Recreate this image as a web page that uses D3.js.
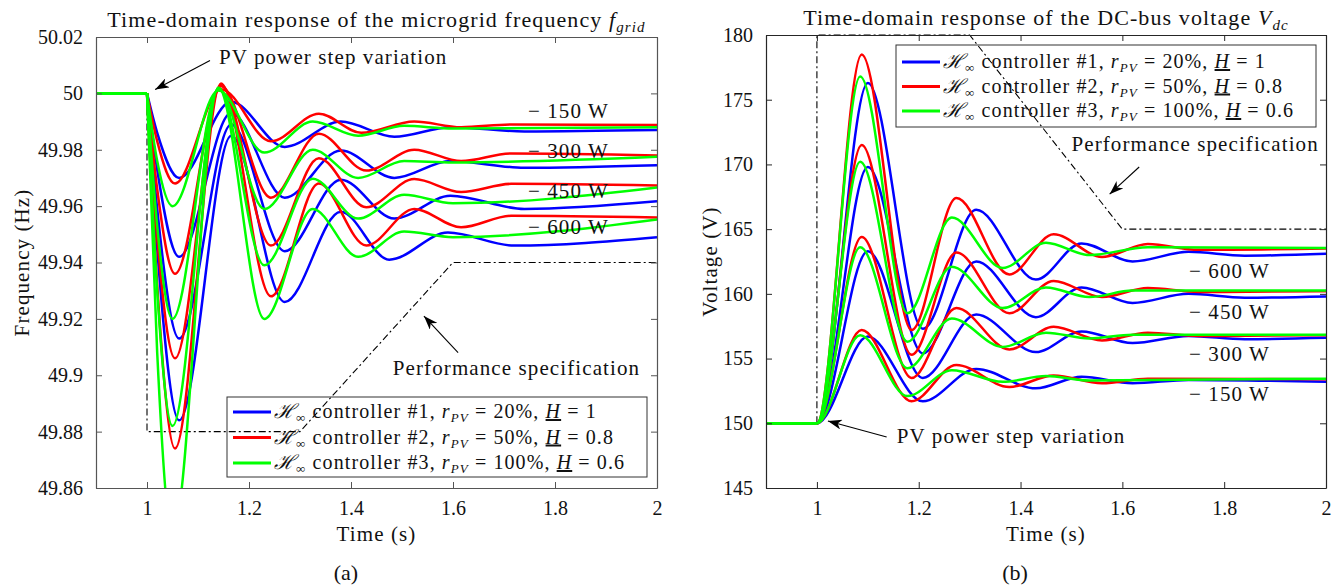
<!DOCTYPE html>
<html>
<head>
<meta charset="utf-8">
<script src="https://cdn.jsdelivr.net/npm/d3@7"></script>
<style>
  body { margin: 0; background: #fff; }
  svg text { font-family: "Liberation Serif", "Times New Roman", serif; fill: #111; }
  svg text.wide { letter-spacing: 1.1px; }
</style>
</head>
<body>
<svg id="chart" width="1333" height="585"></svg>
<script>
// Ticks y etiquetas
const timeTicks = [1, 1.2, 1.4, 1.6, 1.8, 2];
const freqTicks = [49.86, 49.88, 49.9, 49.92, 49.94, 49.96, 49.98, 50, 50.02];
const voltTicks = [145, 150, 155, 160, 165, 170, 175, 180];
const loadLabels = ['150 W', '300 W', '450 W', '600 W'];
const controllerNames = ['#1', '#2', '#3'];
const rpvValues = ['20%', '50%', '100%'];
const hValues = ['1', '0.8', '0.6'];

// Frecuencia [t, Hz], una serie por carga (150, 300, 450, 600 W)
const freqCtrl1 = [
  [[0.9, 50], [1, 50], [1.02, 49.986], [1.063, 49.970], [1.165, 49.997], [1.27, 49.981], [1.38, 49.990], [1.485, 49.9846], [1.595, 49.988], [1.74, 49.9865], [2, 49.987]],
  [[0.9, 50], [1, 50], [1.02, 49.973], [1.063, 49.942], [1.165, 49.993], [1.27, 49.963], [1.38, 49.9797], [1.485, 49.970], [1.595, 49.976], [1.74, 49.9736], [2, 49.9745]],
  [[0.9, 50], [1, 50], [1.02, 49.959], [1.063, 49.913], [1.165, 49.989], [1.27, 49.944], [1.38, 49.9694], [1.485, 49.9556], [1.595, 49.9637], [1.74, 49.959], [2, 49.9617]],
  [[0.9, 50], [1, 50], [1.02, 49.945], [1.063, 49.884], [1.165, 49.985], [1.27, 49.926], [1.38, 49.958], [1.475, 49.941], [1.59, 49.9506], [1.72, 49.946], [2, 49.949]]
];
const freqCtrl2 = [
  [[0.9, 50], [1, 50], [1.02, 49.983], [1.055, 49.968], [1.145, 50.0015], [1.243, 49.983], [1.337, 49.9928], [1.42, 49.986], [1.524, 49.990], [1.616, 49.988], [1.714, 49.989], [2, 49.9888]],
  [[0.9, 50], [1, 50], [1.02, 49.966], [1.055, 49.936], [1.145, 50.0025], [1.243, 49.963], [1.337, 49.9857], [1.43, 49.9726], [1.524, 49.980], [1.616, 49.976], [1.714, 49.9787], [2, 49.978]],
  [[0.9, 50], [1, 50], [1.02, 49.949], [1.055, 49.906], [1.145, 50.003], [1.243, 49.946], [1.337, 49.977], [1.43, 49.9596], [1.524, 49.9696], [1.616, 49.965], [1.714, 49.9679], [2, 49.9673]],
  [[0.9, 50], [1, 50], [1.02, 49.932], [1.055, 49.874], [1.145, 50.0035], [1.243, 49.928], [1.337, 49.968], [1.43, 49.946], [1.524, 49.959], [1.616, 49.9525], [1.714, 49.9566], [2, 49.956]]
];
const freqCtrl3 = [
  [[0.9, 50], [1, 50], [1.02, 49.976], [1.05, 49.960], [1.14, 50.001], [1.23, 49.979], [1.325, 49.990], [1.414, 49.985], [1.504, 49.9885], [1.6, 49.9875], [2, 49.988]],
  [[0.9, 50], [1, 50], [1.02, 49.953], [1.05, 49.920], [1.14, 50.0015], [1.23, 49.959], [1.325, 49.980], [1.414, 49.970], [1.504, 49.976], [1.6, 49.9755], [2, 49.9775]],
  [[0.9, 50], [1, 50], [1.02, 49.930], [1.05, 49.882], [1.14, 50.002], [1.23, 49.939], [1.325, 49.9697], [1.414, 49.9556], [1.504, 49.964], [1.6, 49.961], [2, 49.9666]],
  [[0.9, 50], [1, 50], [1.02, 49.908], [1.05, 49.843], [1.14, 50.002], [1.23, 49.920], [1.325, 49.959], [1.414, 49.942], [1.504, 49.951], [1.6, 49.949], [2, 49.9553]]
];

// Tensión del bus DC [t, V]
const voltCtrl1 = [
  [[0.9, 150], [1, 150], [1.10, 156.7], [1.208, 151.7], [1.313, 154.2], [1.43, 152.7], [1.52, 153.6], [1.62, 153.1], [1.73, 153.35], [2, 153.2]],
  [[0.9, 150], [1, 150], [1.10, 163.3], [1.208, 153.5], [1.313, 158.4], [1.43, 155.5], [1.52, 157.1], [1.62, 156.2], [1.73, 156.75], [1.84, 156.5], [2, 156.6]],
  [[0.9, 150], [1, 150], [1.10, 169.8], [1.208, 155.4], [1.313, 162.5], [1.43, 158.2], [1.52, 160.5], [1.62, 159.3], [1.73, 160.0], [1.84, 159.7], [2, 159.8]],
  [[0.9, 150], [1, 150], [1.10, 176.3], [1.208, 157.3], [1.313, 166.5], [1.43, 161.1], [1.52, 163.9], [1.62, 162.5], [1.73, 163.25], [1.84, 162.95], [2, 163.1]]
];
const voltCtrl2 = [
  [[0.9, 150], [1, 150], [1.088, 157.2], [1.186, 151.7], [1.274, 154.5], [1.378, 152.8], [1.465, 153.7], [1.56, 153.1], [1.65, 153.45], [2, 153.4]],
  [[0.9, 150], [1, 150], [1.088, 164.4], [1.186, 153.5], [1.274, 158.9], [1.378, 155.7], [1.465, 157.45], [1.56, 156.4], [1.65, 157.0], [1.75, 156.75], [2, 156.8]],
  [[0.9, 150], [1, 150], [1.088, 171.5], [1.186, 155.3], [1.274, 163.2], [1.378, 158.5], [1.465, 161.0], [1.56, 159.75], [1.65, 160.45], [1.75, 160.15], [2, 160.2]],
  [[0.9, 150], [1, 150], [1.088, 178.5], [1.186, 157.2], [1.274, 167.4], [1.378, 161.5], [1.465, 164.6], [1.56, 162.85], [1.65, 163.85], [1.75, 163.4], [2, 163.5]]
];
const voltCtrl3 = [
  [[0.9, 150], [1, 150], [1.085, 156.8], [1.178, 152.1], [1.265, 154.1], [1.365, 153.2], [1.45, 153.65], [1.535, 153.3], [2, 153.45]],
  [[0.9, 150], [1, 150], [1.085, 163.6], [1.178, 154.25], [1.265, 158.1], [1.365, 155.9], [1.45, 157.0], [1.535, 156.55], [1.62, 156.85], [2, 156.85]],
  [[0.9, 150], [1, 150], [1.085, 170.2], [1.178, 156.3], [1.265, 162.1], [1.365, 158.9], [1.45, 160.5], [1.535, 159.75], [1.62, 160.25], [2, 160.25]],
  [[0.9, 150], [1, 150], [1.085, 176.8], [1.178, 158.5], [1.265, 165.9], [1.365, 162.0], [1.45, 163.95], [1.535, 163.0], [1.65, 163.6], [2, 163.55]]
];

// Especificación de desempeño
const freqSpec = [[1, 50], [1, 49.88], [1.3, 49.88], [1.6, 49.94], [2, 49.94]];
const voltSpec = [[1, 150], [1, 180], [1.3, 180], [1.6, 165], [2, 165]];

const colors = ['#0000ff', '#ff0000', '#00ff00'];
const svg = d3.select('#chart');

// Punta de flecha
svg.append('defs').append('marker')
  .attr('id', 'arrow')
  .attr('viewBox', '0 0 14 10')
  .attr('refX', 14).attr('refY', 5)
  .attr('markerWidth', 14).attr('markerHeight', 10)
  .attr('markerUnits', 'userSpaceOnUse')
  .attr('orient', 'auto')
  .append('path')
  .attr('d', 'M0,0 L14,5 L0,10 L4,5 Z')
  .attr('fill', '#000');

function drawPanel(p) {
  const x = d3.scaleLinear().domain([0.9, 2]).range([p.left, p.right]);
  const y = d3.scaleLinear().domain(p.yDomain).range([p.bottom, p.top]);
  const g = svg.append('g');

  g.append('clipPath').attr('id', 'clip-' + p.id).append('rect')
    .attr('x', p.left).attr('y', p.top)
    .attr('width', p.right - p.left).attr('height', p.bottom - p.top);

  const straight = d3.line().x(d => x(d[0])).y(d => y(d[1]));
  const smooth = d3.line().x(d => x(d[0])).y(d => y(d[1])).curve(d3.curveMonotoneX);

  // Especificación (línea punto-raya)
  g.append('path')
    .datum(p.spec)
    .attr('d', straight)
    .attr('fill', 'none')
    .attr('stroke', '#000')
    .attr('stroke-width', 1.1)
    .attr('stroke-dasharray', '7,3,2,3');

  // Curvas
  const plot = g.append('g').attr('clip-path', `url(#clip-${p.id})`);
  p.series.forEach((group, c) => {
    group.forEach(pts => {
      const d = p.kink ? straight(pts.slice(0, 2)) + smooth(pts.slice(1)) : smooth(pts);
      plot.append('path')
        .attr('d', d)
        .attr('fill', 'none')
        .attr('stroke', colors[c])
        .attr('stroke-width', 2.5);
    });
  });

  // Ejes con marcas hacia adentro
  const axes = [
    g.append('g').attr('transform', `translate(0,${p.bottom})`)
      .call(d3.axisBottom(x).tickValues(timeTicks).tickSizeInner(-6).tickSizeOuter(0).tickPadding(13).tickFormat(d => d)),
    g.append('g').attr('transform', `translate(0,${p.top})`)
      .call(d3.axisTop(x).tickValues(timeTicks).tickSizeInner(-6).tickSizeOuter(0).tickFormat('')),
    g.append('g').attr('transform', `translate(${p.left},0)`)
      .call(d3.axisLeft(y).tickValues(p.yTicks).tickSizeInner(-6).tickSizeOuter(0).tickPadding(13).tickFormat(p.yFormat)),
    g.append('g').attr('transform', `translate(${p.right},0)`)
      .call(d3.axisRight(y).tickValues(p.yTicks).tickSizeInner(-6).tickSizeOuter(0).tickFormat(''))
  ];
  axes.forEach(a => {
    a.attr('font-family', null).attr('font-size', 20);
    a.selectAll('path.domain').attr('stroke', p.axisColor).attr('stroke-width', 1.2);
    a.selectAll('.tick line').attr('stroke', p.axisColor);
    a.selectAll('.tick text').attr('fill', '#262626');
  });

  // Título
  const title = g.append('text').attr('class', 'wide')
    .attr('x', (p.left + p.right) / 2).attr('y', p.titleY)
    .attr('text-anchor', 'middle').attr('font-size', 22);
  title.append('tspan').text(p.title);
  title.append('tspan').attr('font-style', 'italic').text(p.titleVar);
  title.append('tspan').attr('font-style', 'italic').attr('font-size', 15).attr('dy', 5).text(p.titleSub);

  // Etiquetas de ejes
  g.append('text').attr('class', 'wide')
    .attr('x', (p.left + p.right) / 2).attr('y', 541)
    .attr('text-anchor', 'middle').attr('font-size', 21)
    .text('Time (s)');
  g.append('text').attr('class', 'wide')
    .attr('transform', `translate(${p.ylabelX},${(p.top + p.bottom) / 2}) rotate(-90)`)
    .attr('text-anchor', 'middle').attr('font-size', 21)
    .text(p.ylabel);
  g.append('text')
    .attr('x', p.captionX).attr('y', 580)
    .attr('text-anchor', 'middle').attr('font-size', 22)
    .text(p.caption);

  // Etiquetas de carga
  loadLabels.forEach((l, i) => {
    g.append('text').attr('class', 'wide')
      .attr('x', x(p.loadX)).attr('y', y(p.loadY[i]))
      .attr('dy', '0.33em').attr('font-size', 21)
      .text('\u2212 ' + l);
  });

  // Anotaciones con flecha
  p.notes.forEach(n => {
    g.append('line')
      .attr('x1', x(n.tail[0])).attr('y1', y(n.tail[1]))
      .attr('x2', x(n.tip[0])).attr('y2', y(n.tip[1]))
      .attr('stroke', '#000').attr('stroke-width', 1.1)
      .attr('marker-end', 'url(#arrow)');
    g.append('text').attr('class', 'wide')
      .attr('x', x(n.at[0])).attr('y', y(n.at[1]))
      .attr('font-size', 21)
      .text(n.text);
  });

  // Leyenda
  const L = p.legend;
  const lg = g.append('g');
  lg.append('rect')
    .attr('x', L.x).attr('y', L.y).attr('width', L.w).attr('height', L.h)
    .attr('fill', 'none').attr('stroke', '#333').attr('stroke-width', 1);
  controllerNames.forEach((name, i) => {
    const ry = L.y + L.row0 + i * L.dy;
    lg.append('line')
      .attr('x1', L.x + 6).attr('x2', L.x + 44)
      .attr('y1', ry).attr('y2', ry)
      .attr('stroke', colors[i]).attr('stroke-width', 3);
    const t = lg.append('text').attr('class', 'wide')
      .attr('x', L.x + 47).attr('y', ry + 6).attr('font-size', 20);
    t.append('tspan').attr('font-style', 'italic').text('\u210B');
    t.append('tspan').attr('font-size', 13).attr('dy', 4).text('\u221E');
    t.append('tspan').attr('dy', -4).text(` controller ${name}, `);
    t.append('tspan').attr('font-style', 'italic').text('r');
    t.append('tspan').attr('font-style', 'italic').attr('font-size', 13).attr('dy', 4).text('PV');
    t.append('tspan').attr('dy', -4).text(` = ${rpvValues[i]}, `);
    t.append('tspan').attr('font-style', 'italic').attr('text-decoration', 'underline').text('H');
    t.append('tspan').text(` = ${hValues[i]}`);
  });
}

drawPanel({
  id: 'freq', left: 96, right: 657, top: 37, bottom: 488,
  yDomain: [49.86, 50.02], yTicks: freqTicks, yFormat: d => String(+d.toFixed(2)),
  series: [freqCtrl1, freqCtrl2, freqCtrl3], spec: freqSpec, kink: true,
  axisColor: '#555',
  title: 'Time-domain response of the microgrid frequency ', titleVar: 'f', titleSub: 'grid', titleY: 27,
  ylabel: 'Frequency (Hz)', ylabelX: 29, caption: '(a)', captionX: 346,
  loadX: 1.747, loadY: [49.9938, 49.9797, 49.9655, 49.9524],
  notes: [
    { text: 'PV power step variation', at: [1.141, 50.0103], tail: [1.1235, 50.0117], tip: [1.016, 50.0014] },
    { text: 'Performance specification', at: [1.482, 49.900], tail: [1.61, 49.908], tip: [1.543, 49.921] }
  ],
  legend: { x: 227, y: 397, w: 420, h: 80, row0: 15, dy: 25.5 }
});

drawPanel({
  id: 'volt', left: 766, right: 1326, top: 35, bottom: 488,
  yDomain: [145, 180], yTicks: voltTicks, yFormat: d => d,
  series: [voltCtrl1, voltCtrl2, voltCtrl3], spec: voltSpec, kink: false,
  axisColor: '#262626',
  title: 'Time-domain response of the DC-bus voltage ', titleVar: 'V', titleSub: 'dc', titleY: 25,
  ylabel: 'Voltage (V)', ylabelX: 717, caption: '(b)', captionX: 1015,
  loadX: 1.731, loadY: [152.26, 155.36, 158.6, 161.77],
  notes: [
    { text: 'PV power step variation', at: [1.157, 148.48], tail: [1.137, 148.94], tip: [1.0216, 150.18] },
    { text: 'Performance specification', at: [1.5, 171.0], tail: [1.633, 169.8], tip: [1.575, 167.7] }
  ],
  legend: { x: 896, y: 45, w: 420, h: 82, row0: 17, dy: 24.5 }
});
</script>
</body>
</html>
